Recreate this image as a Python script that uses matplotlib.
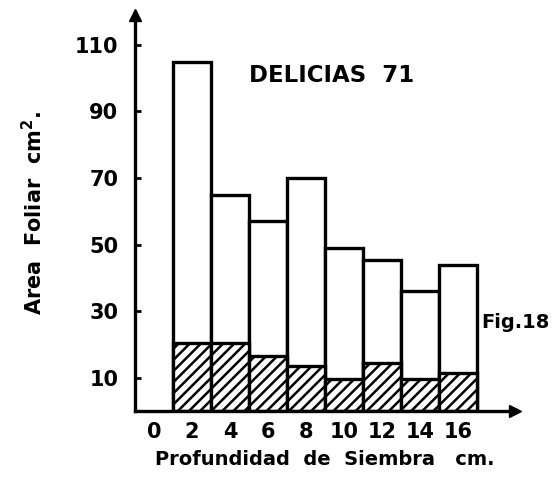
import matplotlib
matplotlib.use("Agg")
import matplotlib.pyplot as plt

depths = [2, 4, 6, 8, 10, 12, 14, 16]
total_area = [105, 65, 57, 70, 49, 45.5, 36, 44]
hatched_area = [20.5, 20.5, 16.5, 13.5, 9.5, 14.5, 9.5, 11.5]
xtick_vals = [0, 2, 4, 6, 8, 10, 12, 14, 16]
xtick_labels = ["0", "2", "4", "6", "8", "10", "12", "14", "16"]
ytick_vals = [10, 30, 50, 70, 90, 110]
ytick_labels = ["10", "30", "50", "70", "90", "110"]

plt.rcParams['hatch.linewidth'] = 1.8
plt.rcParams['font.family'] = ['DejaVu Sans']

fig = plt.figure(figsize=(5.54, 4.78), dpi=100)
ax = fig.add_axes([0.2437, 0.1402, 0.686, 0.8285])
ax.set_xlim(-1, 19)
ax.set_ylim(0, 119)

lw = 2.4
ax.bar(depths, total_area, width=2, color='white', edgecolor='black', linewidth=lw, zorder=2)
ax.bar(depths, hatched_area, width=2, color='white', edgecolor='black', linewidth=lw,
       hatch='///', zorder=3)

for s in ['top', 'right']:
    ax.spines[s].set_visible(False)
for s in ['left', 'bottom']:
    ax.spines[s].set_linewidth(lw)
    ax.spines[s].set_zorder(4)

# arrow heads
ax.plot(1, 0, '>k', markersize=8, transform=ax.transAxes, clip_on=False)
ax.plot(0, 1, '^k', markersize=8, transform=ax.transAxes, clip_on=False)

ax.set_xticks(xtick_vals)
ax.set_xticklabels(xtick_labels, fontsize=15, fontweight='bold')
ax.tick_params(axis='x', length=0, pad=8)
ax.set_yticks(ytick_vals)
ax.set_yticklabels(ytick_labels, fontsize=15, fontweight='bold')
ax.tick_params(axis='y', direction='in', length=4, width=2, pad=12)

ax.set_xlabel("Profundidad  de  Siembra   cm.", fontsize=14, fontweight='bold', labelpad=6)
fig.text(0.06, 0.555, "Area  Foliar  cm$^{\\mathbf{2}}$.", rotation=90, fontsize=15,
         fontweight='bold', ha='center', va='center')

fig.text(0.598, 0.843, "DELICIAS  71", fontsize=16.5, fontweight='bold', ha='center', va='center')
fig.text(0.93, 0.325, "Fig.18", fontsize=14, fontweight='bold', ha='center', va='center')

fig.savefig("out.png", dpi=100)
